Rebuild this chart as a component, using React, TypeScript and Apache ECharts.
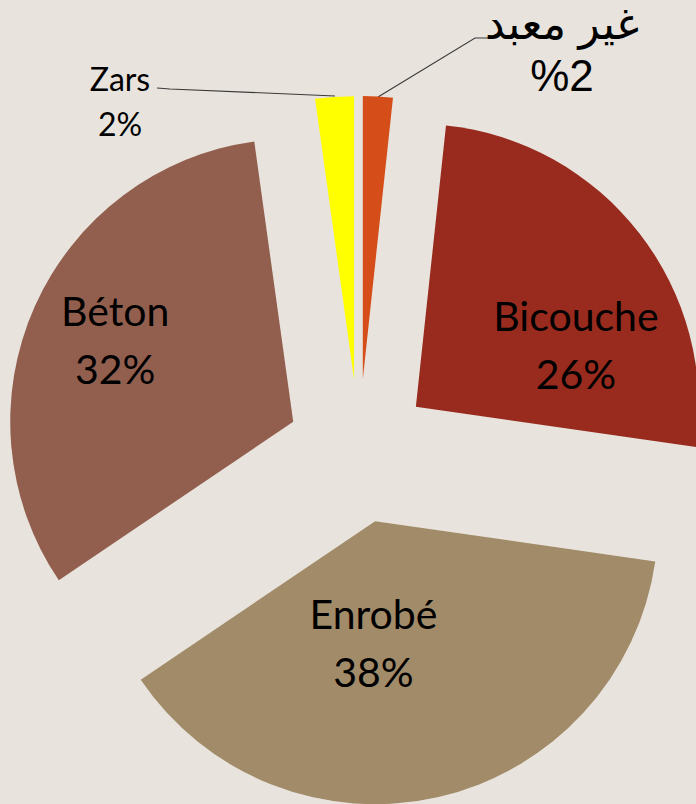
import React, { useEffect, useRef } from "react";
import * as echarts from "echarts";

const categories = ["غير معبد", "Bicouche", "Enrobé", "Béton", "Zars"];
const values = [1.7, 25.6, 38.3, 32.3, 2.2];
const colors = ["#D54E1A", "#982B1E", "#A28B69", "#925F4F", "#FFFF00"];
const insideItems = [false, true, true, true, false];

const BG = "#E8E4DD";
const CX = 359;
const CY = 451;
const R = 283;
const EXPLODE = 72;

function labelFor(i: number): any {
  if (insideItems[i]) {
    return {
      show: true,
      position: "inside",
      formatter: "{b}\n{d}%",
      fontFamily: "Lato",
      fontSize: 41,
      lineHeight: 58,
      color: "#000",
    };
  }
  if (i === 0) {
    return {
      show: true,
      position: "outside",
      formatter: "{b}\n%{d}",
      fontFamily: "'Liberation Sans', 'DejaVu Sans', sans-serif",
      fontSize: 44,
      lineHeight: 52,
      color: "#000",
      align: "center",
    };
  }
  return {
    show: true,
    position: "outside",
    formatter: "{b}\n{d}%",
    fontFamily: "Lato",
    fontSize: 32,
    lineHeight: 45,
    color: "#000",
    align: "center",
  };
}

const layoutFor = (i: number): any => {
  switch (i) {
    case 0:
      return {
        x: 562,
        y: 49,
        align: "center",
        verticalAlign: "middle",
        labelLinePoints: [
          [378, 97],
          [475, 38],
          [488, 38],
        ],
      };
    case 1:
      return { dx: 46, dy: 26 };
    case 2:
      return { dx: -34, dy: -19 };
    case 3:
      return { dx: -46, dy: -23 };
    case 4:
      return {
        x: 120,
        y: 101,
        align: "center",
        verticalAlign: "middle",
        labelLinePoints: [
          [335, 96],
          [170, 89],
          [157, 88],
        ],
      };
  }
  return {};
};

export default function App() {
  const ref = useRef<HTMLDivElement>(null);

  useEffect(() => {
    if (!ref.current) return;
    const chart = echarts.init(ref.current, null, { renderer: "svg" });

    const total = values.reduce((a, b) => a + b, 0);
    let acc = 0;
    const series = categories.map((_, i) => {
      const a0 = (acc / total) * 2 * Math.PI;
      acc += values[i];
      const a1 = (acc / total) * 2 * Math.PI;
      const mid = (a0 + a1) / 2;
      const center = [CX + EXPLODE * Math.sin(mid), CY - EXPLODE * Math.cos(mid)];
      return {
        type: "pie",
        center,
        radius: R,
        startAngle: 90,
        clockwise: true,
        percentPrecision: 0,
        silent: true,
        avoidLabelOverlap: false,
        emphasis: { disabled: true },
        itemStyle: { borderWidth: 0 },
        data: categories.map((name, j) => ({
          name,
          value: values[j],
          itemStyle: { color: j === i ? colors[j] : "rgba(0,0,0,0)" },
          label: j === i ? labelFor(j) : { show: false },
          labelLine:
            j === i && !insideItems[j]
              ? {
                  show: true,
                  length: 10,
                  length2: 12,
                  smooth: false,
                  lineStyle: { color: "#3a3a3a", width: 1.1 },
                }
              : { show: false },
        })),
        labelLayout: (params: any) =>
          params.dataIndex === i ? layoutFor(i) : {},
      };
    });

    chart.setOption({
      animation: false,
      backgroundColor: BG,
      series,
    });

    return () => {
      chart.dispose();
    };
  }, []);

  return (
    <div
      ref={ref}
      style={{
        position: "fixed",
        left: 0,
        top: 0,
        width: 696,
        height: 804,
        background: BG,
      }}
    />
  );
}
